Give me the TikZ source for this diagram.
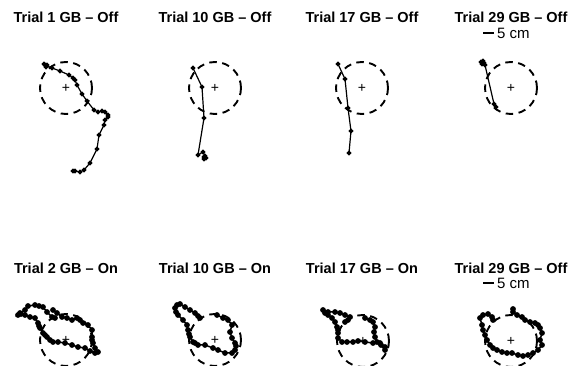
\documentclass[tikz,border=0pt]{standalone}
\usepackage{fontspec}
\setmainfont{Liberation Sans}

\begin{document}
\begin{tikzpicture}[x=1pt,y=-1pt]
  \tikzset{ttl/.style={font=\fontsize{14.5}{16}\selectfont\bfseries},
    ctr/.style={inner sep=0pt, font=\fontsize{14}{14}\selectfont},
    goal/.style={dash pattern=on 7.5pt off 5.5pt, line width=1.9pt},
    track/.style={line width=1.2pt, mark=*, mark size=1.8pt},
    dense/.style={track, line width=1.5pt, mark size=2.1pt},
    scl/.style={font=\fontsize{15}{17}\selectfont, anchor=west, inner sep=0pt},
    bar/.style={line width=2.2pt}}
  \useasboundingbox (0,0) rectangle (571,366);

  % GB off, first row
  \node[ttl] at (66,17) (t1) {Trial 1 GB -- Off};
  \node[ttl] at (215,17) (t2) {Trial 10 GB -- Off};
  \node[ttl] at (362,17) (t3) {Trial 17 GB -- Off};
  \node[ttl] at (511,17) (t4) {Trial 29 GB -- Off};
  \node[scl] at (497,33) (s1) {5 cm};
  \draw[bar] (483,33) -- (494,33);

  \node[ctr] at (66,88) (c1) {+};
  \node[ctr] at (215,88) (c2) {+};
  \node[ctr] at (362,88) (c3) {+};
  \node[ctr] at (511,88) (c4) {+};
  \draw[goal] (c1) circle[radius=26pt];
  \draw[goal] (c2) circle[radius=26pt];
  \draw[goal] (c3) circle[radius=26pt];
  \draw[goal] (c4) circle[radius=26pt];

  \draw[track] plot coordinates {(44,64) (46,67) (47,65) (45,65) (52,68) (60,71)
    (69,75) (73,78) (75,80) (77,85) (82,94) (87,101) (94,110) (98,112) (102,111)
    (105,112) (108,115) (108,117) (105,120) (104,125) (99,135) (97,149) (90,163)
    (84,170) (80,172) (75,171) (73,171)};
  \draw[track] plot coordinates {(193,68) (202,87) (204,118) (198,155) (203,152)
    (205,156) (204,159) (206,158) (204,157)};
  \draw[track] plot coordinates {(338,64) (345,79) (348,108) (351,131) (349,153)};
  \draw[track] plot coordinates {(481,62) (483,61) (484,63) (482,64) (485,65)
    (494,104) (496,107)};

  % GB on, second row
  \node[ttl] at (66,268) (t5) {Trial 2 GB -- On};
  \node[ttl] at (215,268) (t6) {Trial 10 GB -- On};
  \node[ttl] at (362,268) (t7) {Trial 17 GB -- On};
  \node[ttl] at (511,268) (t8) {Trial 29 GB -- Off};
  \node[scl] at (497,283) (s2) {5 cm};
  \draw[bar] (483,283) -- (494,283);

  \node[ctr] at (66,340) (c5) {+};
  \node[ctr] at (215,340) (c6) {+};
  \node[ctr] at (363,341) (c7) {+};
  \node[ctr] at (511,341) (c8) {+};
  \draw[goal] (c5) circle[radius=26pt];
  \draw[goal] (c6) circle[radius=26pt];
  \draw[goal] (c7) circle[radius=26pt];
  \draw[goal] (c8) circle[radius=26pt];

  \draw[dense] plot coordinates {(55,318) (52,317) (47,312) (43,307) (39,306)
    (35,305) (28,306) (25,310) (20,313) (18,315) (21,314) (25,315) (30,317)
    (35,318) (38,323) (39,326) (40,328) (43,333) (45,335) (47,337) (50,340)
    (53,342) (58,342) (65,343) (72,345) (78,347) (85,348) (90,351) (95,353)
    (98,352) (95,348) (93,343) (92,340) (92,337) (92,330) (88,325) (83,323)
    (80,320) (77,318) (72,320) (67,318) (62,317) (57,313) (53,310)};
  \draw[dense] plot coordinates {(200,318) (198,316) (195,313) (190,310) (185,307)
    (180,304) (177,305) (175,308) (176,312) (178,315) (183,320) (187,325)
    (188,330) (189,334) (190,337) (193,342) (195,343) (198,345) (205,345)
    (213,348) (218,350) (225,353) (232,353) (235,350) (236,346) (235,343)
    (232,338) (230,332) (232,325) (228,320) (223,318) (217,315)};
  \draw[dense] plot coordinates {(345,322) (348,320) (350,317) (345,315) (340,313)
    (335,312) (328,312) (323,310) (325,313) (328,315) (332,318) (335,322)
    (337,327) (338,330) (338,333) (338,338) (342,342) (347,342) (353,342)
    (358,341) (365,342) (373,343) (380,343) (385,347) (385,350) (381,345)
    (377,342) (375,337) (374,332) (375,327) (373,322) (370,320) (365,318)};
  \draw[dense] plot coordinates {(493,320) (492,317) (488,314) (483,315) (480,318)
    (482,325) (483,330) (485,335) (487,340) (490,345) (493,348) (497,350)
    (502,352) (507,353) (512,353) (518,355) (523,356) (528,355) (533,353)
    (538,350) (542,345) (540,340) (542,333) (540,328) (538,325) (535,323)
    (530,322) (525,320) (522,317) (517,315) (513,312) (513,309)};
\end{tikzpicture}
\end{document}
